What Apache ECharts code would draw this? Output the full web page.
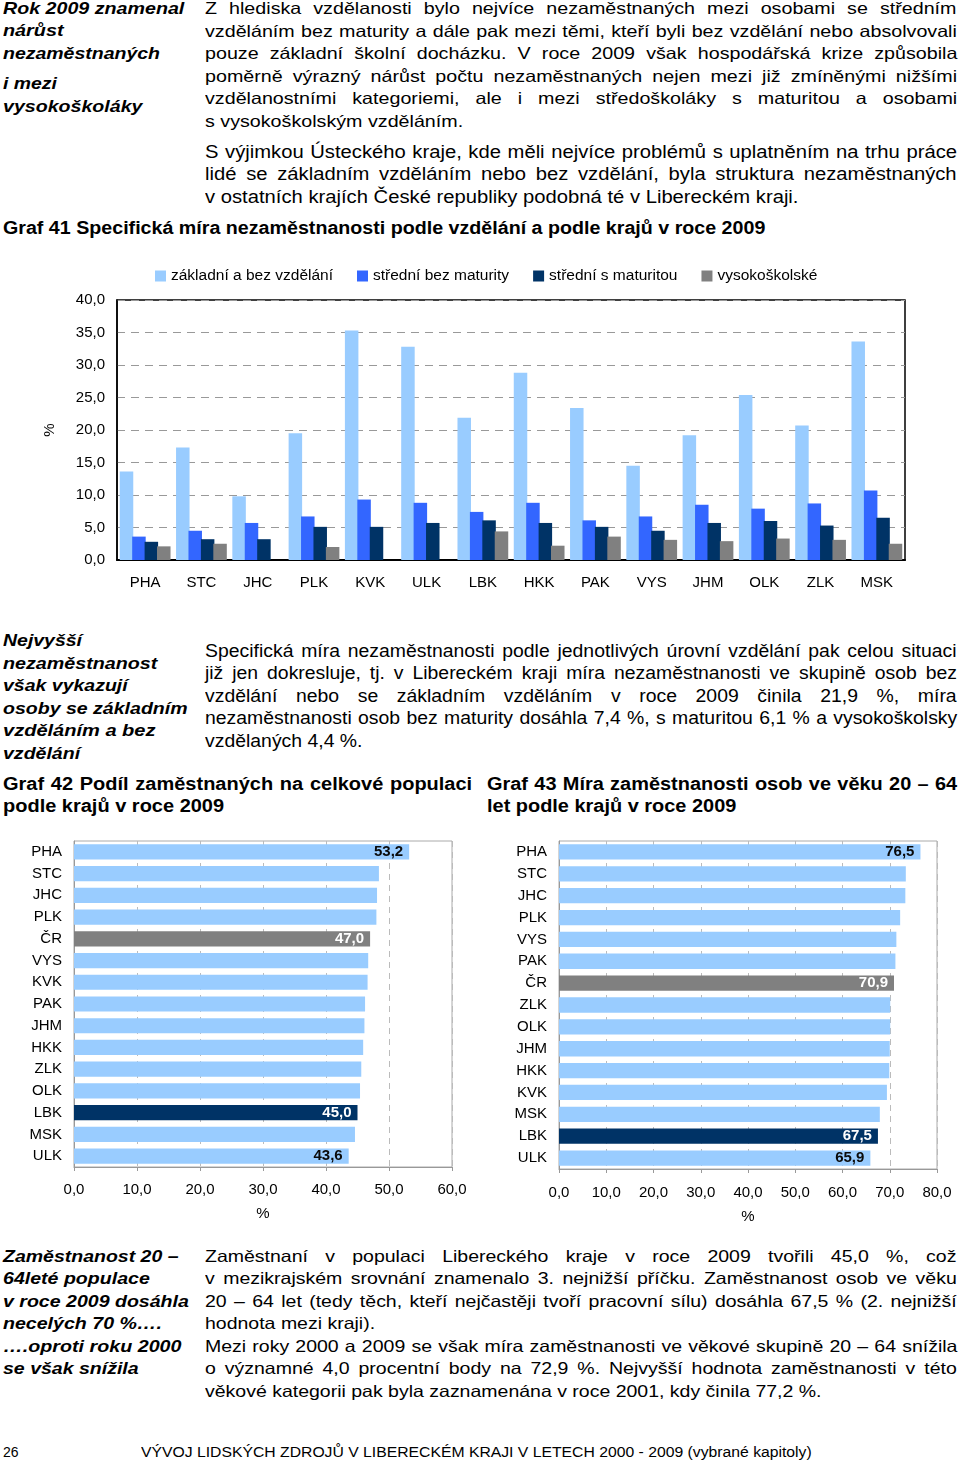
<!DOCTYPE html>
<html>
<head>
<meta charset="utf-8">
<script src="https://cdn.jsdelivr.net/npm/echarts@6/dist/echarts.min.js"></script>
<style>
html, body { margin: 0; padding: 0; background: #fff; }
#page { position: relative; width: 960px; height: 1463px; overflow: hidden; font-family: "Liberation Sans", Arial, sans-serif; color: #000; }
.ln { position: absolute; white-space: nowrap; line-height: 1; transform-origin: 0 0; }
.n { font-size: 16.5px; }
.n2 { font-size: 17.5px; }
.hi { font-size: 16.5px; font-weight: bold; font-style: italic; }
.hi2 { font-size: 17px; font-weight: bold; font-style: italic; }
.t { font-size: 18px; font-weight: bold; }
.ft { font-size: 14px; }
.chart { position: absolute; }
</style>
</head>
<body>
<div id="page">
  <!-- úvodní odstavce -->
  <div class="ln hi" data-x0="3" data-x1="184" data-b="13.5">Rok 2009 znamenal</div>
  <div class="ln hi" data-x0="3" data-x1="63" data-b="36">nárůst</div>
  <div class="ln hi" data-x0="3" data-x1="160" data-b="58.5">nezaměstnaných</div>
  <div class="ln hi" data-x0="3" data-x1="57" data-b="89">i mezi</div>
  <div class="ln hi" data-x0="3" data-x1="142" data-b="111.5">vysokoškoláky</div>

  <div class="ln n" data-blk="p1" data-m="j" data-x0="205" data-x1="957" data-b="14">Z hlediska vzdělanosti bylo nejvíce nezaměstnaných mezi osobami se středním</div>
  <div class="ln n" data-blk="p1" data-m="j" data-x0="205" data-x1="957" data-b="36.5">vzděláním bez maturity a dále pak mezi těmi, kteří byli bez vzdělání nebo absolvovali</div>
  <div class="ln n" data-blk="p1" data-m="j" data-x0="205" data-x1="957" data-b="59">pouze základní školní docházku. V roce 2009 však hospodářská krize způsobila</div>
  <div class="ln n" data-blk="p1" data-m="j" data-x0="205" data-x1="957" data-b="81.5">poměrně výrazný nárůst počtu nezaměstnaných nejen mezi již zmíněnými nižšími</div>
  <div class="ln n" data-blk="p1" data-m="j" data-x0="205" data-x1="957" data-b="104">vzdělanostními kategoriemi, ale i mezi středoškoláky s maturitou a osobami</div>
  <div class="ln n" data-blk="p1" data-x0="205" data-x1="461" data-b="126.5">s vysokoškolským vzděláním.</div>

  <div class="ln n2" data-blk="p2" data-m="j" data-x0="205" data-x1="957" data-b="158.5">S výjimkou Ústeckého kraje, kde měli nejvíce problémů s uplatněním na trhu práce</div>
  <div class="ln n2" data-blk="p2" data-m="j" data-x0="205" data-x1="957" data-b="181">lidé se základním vzděláním nebo bez vzdělání, byla struktura nezaměstnaných</div>
  <div class="ln n2" data-blk="p2" data-x0="205" data-x1="781" data-b="203.5">v ostatních krajích České republiky podobná té v Libereckém kraji.</div>

  <div class="ln t" data-x0="3" data-x1="765" data-b="234.5">Graf 41 Specifická míra nezaměstnanosti podle vzdělání a podle krajů v roce 2009</div>

  <div id="graf41" class="chart" style="left:0;top:255px;width:960px;height:350px;"></div>

  <!-- prostřední část -->
  <div class="ln hi2" data-x0="3" data-x1="82" data-b="646.5">Nejvyšší</div>
  <div class="ln hi2" data-x0="3" data-x1="157" data-b="669">nezaměstnanost</div>
  <div class="ln hi2" data-x0="3" data-x1="128" data-b="691.5">však vykazují</div>
  <div class="ln hi2" data-x0="3" data-x1="188" data-b="714">osoby se základním</div>
  <div class="ln hi2" data-x0="3" data-x1="155" data-b="736.5">vzděláním a bez</div>
  <div class="ln hi2" data-x0="3" data-x1="80" data-b="759">vzdělání</div>

  <div class="ln n2" data-blk="p3" data-m="j" data-x0="205" data-x1="957" data-b="657.5">Specifická míra nezaměstnanosti podle jednotlivých úrovní vzdělání pak celou situaci</div>
  <div class="ln n2" data-blk="p3" data-m="j" data-x0="205" data-x1="957" data-b="680">již jen dokresluje, tj. v Libereckém kraji míra nezaměstnanosti ve skupině osob bez</div>
  <div class="ln n2" data-blk="p3" data-m="j" data-x0="205" data-x1="957" data-b="702.5">vzdělání nebo se základním vzděláním v roce 2009 činila 21,9 %, míra</div>
  <div class="ln n2" data-blk="p3" data-m="j" data-x0="205" data-x1="957" data-b="725">nezaměstnanosti osob bez maturity dosáhla 7,4 %, s maturitou 6,1 % a vysokoškolsky</div>
  <div class="ln n2" data-blk="p3" data-x0="205" data-x1="363" data-b="747.5">vzdělaných 4,4 %.</div>

  <div class="ln t" data-blk="g42" data-m="j" data-x0="3" data-x1="472" data-b="790.5">Graf 42 Podíl zaměstnaných na celkové populaci</div>
  <div class="ln t" data-blk="g42" data-x0="3" data-x1="219" data-b="812.5">podle krajů v roce 2009</div>
  <div class="ln t" data-blk="g43" data-m="j" data-x0="487" data-x1="957" data-b="790.5">Graf 43 Míra zaměstnanosti osob ve věku 20 – 64</div>
  <div class="ln t" data-blk="g43" data-x0="487" data-x1="732" data-b="812.5">let podle krajů v roce 2009</div>

  <div id="graf42" class="chart" style="left:0;top:830px;width:480px;height:400px;"></div>
  <div id="graf43" class="chart" style="left:480px;top:830px;width:480px;height:400px;"></div>

  <!-- spodní část -->
  <div class="ln hi" data-x0="3" data-x1="179" data-b="1261.5">Zaměstnanost 20 –</div>
  <div class="ln hi" data-x0="3" data-x1="150" data-b="1284">64leté populace</div>
  <div class="ln hi" data-x0="3" data-x1="189" data-b="1306.5">v roce 2009 dosáhla</div>
  <div class="ln hi" data-x0="3" data-x1="162" data-b="1329">necelých 70 %….</div>
  <div class="ln hi" data-x0="3" data-x1="181" data-b="1351.5">….oproti roku 2000</div>
  <div class="ln hi" data-x0="3" data-x1="139" data-b="1374">se však snížila</div>

  <div class="ln n" data-blk="p4" data-m="j" data-x0="205" data-x1="957" data-b="1261.5">Zaměstnaní v populaci Libereckého kraje v roce 2009 tvořili 45,0 %, což</div>
  <div class="ln n" data-blk="p4" data-m="j" data-x0="205" data-x1="957" data-b="1284">v mezikrajském srovnání znamenalo 3. nejnižší příčku. Zaměstnanost osob ve věku</div>
  <div class="ln n" data-blk="p4" data-m="j" data-x0="205" data-x1="957" data-b="1306.5">20 – 64 let (tedy těch, kteří nejčastěji tvoří pracovní sílu) dosáhla 67,5 % (2. nejnižší</div>
  <div class="ln n" data-blk="p4" data-x0="205" data-x1="376" data-b="1329">hodnota mezi kraji).</div>
  <div class="ln n" data-blk="p4" data-m="j" data-x0="205" data-x1="957" data-b="1351.5">Mezi roky 2000 a 2009 se však míra zaměstnanosti ve věkové skupině 20 – 64 snížila</div>
  <div class="ln n" data-blk="p4" data-m="j" data-x0="205" data-x1="957" data-b="1374">o významné 4,0 procentní body na 72,9 %. Nejvyšší hodnota zaměstnanosti v této</div>
  <div class="ln n" data-blk="p4" data-x0="205" data-x1="826" data-b="1396.5">věkové kategorii pak byla zaznamenána v roce 2001, kdy činila 77,2 %.</div>

  <div class="ln ft" data-x0="3" data-x1="19" data-b="1457">26</div>
  <div class="ln ft" data-x0="141" data-x1="812" data-b="1457">VÝVOJ LIDSKÝCH ZDROJŮ V LIBERECKÉM KRAJI V LETECH 2000 - 2009 (vybrané kapitoly)</div>
</div>

<script>
// Graf 41 - specifická míra nezaměstnanosti (%)
var kraje41 = ['PHA', 'STC', 'JHC', 'PLK', 'KVK', 'ULK', 'LBK', 'HKK', 'PAK', 'VYS', 'JHM', 'OLK', 'ZLK', 'MSK'];
var zakladni = [13.6, 17.3, 9.8, 19.5, 35.3, 32.8, 21.9, 28.8, 23.4, 14.5, 19.2, 25.4, 20.7, 33.6];
var stredniBezMat = [3.6, 4.5, 5.7, 6.7, 9.3, 8.8, 7.4, 8.8, 6.1, 6.7, 8.5, 7.9, 8.7, 10.7];
var stredniSMat = [2.8, 3.2, 3.2, 5.1, 5.1, 5.7, 6.1, 5.7, 5.1, 4.5, 5.7, 6.0, 5.3, 6.5];
var vysokoskolske = [2.1, 2.5, null, 2.0, null, null, 4.4, 2.2, 3.6, 3.1, 2.9, 3.3, 3.1, 2.5];

// Graf 42 - podíl zaměstnaných na celkové populaci (%)
var kraje42 = ['PHA', 'STC', 'JHC', 'PLK', 'ČR', 'VYS', 'KVK', 'PAK', 'JHM', 'HKK', 'ZLK', 'OLK', 'LBK', 'MSK', 'ULK'];
var podil42 = [53.2, 48.4, 48.1, 48.0, 47.0, 46.7, 46.6, 46.2, 46.1, 45.9, 45.6, 45.4, 45.0, 44.6, 43.6];

// Graf 43 - míra zaměstnanosti 20-64 let (%)
var kraje43 = ['PHA', 'STC', 'JHC', 'PLK', 'VYS', 'PAK', 'ČR', 'ZLK', 'OLK', 'JHM', 'HKK', 'KVK', 'MSK', 'LBK', 'ULK'];
var mira43 = [76.5, 73.4, 73.3, 72.2, 71.4, 71.2, 70.9, 70.1, 70.1, 70.0, 69.9, 69.4, 67.9, 67.5, 65.9];

var popisky = ['PHA', 'ČR', 'LBK', 'ULK'];  // hodnoty s popiskem

var FONT = '"Liberation Sans", Arial, sans-serif';
var fmt = function (v) { return v.toFixed(1).replace('.', ','); };

// rozmístění řádků textu, odstavce zarovnané do bloku
var radky = Array.prototype.slice.call(document.querySelectorAll('.ln'));
var blokSx = {};
radky.forEach(function (el) {
  el.dataset.nat = el.offsetWidth;
  var blk = el.dataset.blk;
  if (blk && el.dataset.m === 'j') {
    var r = (el.dataset.x1 - el.dataset.x0) / el.dataset.nat;
    blokSx[blk] = Math.min(blokSx[blk] || 99, r);
  }
});
radky.forEach(function (el) {
  var x0 = +el.dataset.x0, x1 = +el.dataset.x1, b = +el.dataset.b, nat = +el.dataset.nat;
  var fs = parseFloat(getComputedStyle(el).fontSize);
  var w = x1 - x0;
  el.style.left = x0 + 'px';
  el.style.top = (b - 0.8465 * fs) + 'px';
  var sx = el.dataset.blk ? blokSx[el.dataset.blk] * 0.985 : w / nat;
  if (el.dataset.m === 'j') {
    var sp = (el.textContent.match(/ /g) || []).length;
    if (sp) el.style.wordSpacing = ((w / sx - nat) / sp) + 'px';
  }
  el.style.transform = 'scaleX(' + sx + ')';
});

// graf 41
var g41 = echarts.init(document.getElementById('graf41'));
var barCommon = { type: 'bar', barWidth: 13.5, barGap: '-8%' };
g41.setOption({
  animation: false,
  textStyle: { fontFamily: FONT },
  color: ['#99CCFF', '#3366FF', '#003366', '#808080'],
  legend: {
    left: 150, top: 8, icon: 'rect', itemWidth: 11, itemHeight: 11, itemGap: 24,
    textStyle: { fontSize: 15.5, color: '#000', fontFamily: FONT }
  },
  grid: { left: 117, right: 55, top: 45, bottom: 45, show: true, borderColor: '#000', borderWidth: 1.5 },
  xAxis: {
    type: 'category', data: kraje41,
    axisLine: { lineStyle: { color: '#000', width: 2 } },
    axisTick: { length: 4, lineStyle: { color: '#000' } },
    axisLabel: { fontSize: 15, color: '#000', margin: 15 }
  },
  yAxis: {
    type: 'value', min: 0, max: 40, interval: 5,
    name: '%', nameLocation: 'middle', nameGap: 60, nameRotate: 90,
    nameTextStyle: { fontSize: 15, color: '#000' },
    axisLine: { show: true, lineStyle: { color: '#000', width: 1.5 } },
    axisTick: { show: false },
    axisLabel: { fontSize: 15, color: '#000', margin: 12, formatter: fmt },
    splitLine: { lineStyle: { color: '#999', type: [8, 6] } }
  },
  series: [
    Object.assign({ name: 'základní a bez vzdělání', data: zakladni }, barCommon),
    Object.assign({ name: 'střední bez maturity', data: stredniBezMat }, barCommon),
    Object.assign({ name: 'střední s maturitou', data: stredniSMat }, barCommon),
    Object.assign({ name: 'vysokoškolské', data: vysokoskolske }, barCommon)
  ]
});

// vodorovné grafy 42 a 43
function horizontal(id, kraje, hodnoty, max, gridOpt, labelMargin, nameGap) {
  var chart = echarts.init(document.getElementById(id));
  var data = hodnoty.map(function (v, i) {
    var k = kraje[i];
    var barva = k === 'ČR' ? '#808080' : (k === 'LBK' ? '#003366' : '#99CCFF');
    var bila = k === 'ČR' || k === 'LBK';
    return {
      value: v,
      itemStyle: { color: barva },
      label: { show: popisky.indexOf(k) >= 0, color: bila ? '#fff' : '#0a0a0a' }
    };
  });
  chart.setOption({
    animation: false,
    textStyle: { fontFamily: FONT },
    grid: Object.assign({ show: true, borderColor: '#aaa', borderWidth: 1 }, gridOpt),
    xAxis: {
      type: 'value', min: 0, max: max, interval: 10,
      name: '%', nameLocation: 'middle', nameGap: nameGap,
      nameTextStyle: { fontSize: 15, color: '#000' },
      axisLine: { show: true, lineStyle: { color: '#999' } },
      axisTick: { show: true, length: 4, lineStyle: { color: '#999' } },
      axisLabel: { fontSize: 15, color: '#000', margin: labelMargin, formatter: fmt },
      splitLine: { lineStyle: { color: '#bbb', type: [6, 5] } }
    },
    yAxis: {
      type: 'category', inverse: true, data: kraje,
      axisLine: { lineStyle: { color: '#999' } },
      axisTick: { length: 5, lineStyle: { color: '#999' } },
      axisLabel: { fontSize: 15, color: '#000', margin: 12 }
    },
    series: [{
      type: 'bar', barCategoryGap: '30%', data: data,
      label: {
        position: 'insideRight', distance: 6, fontSize: 15, fontWeight: 'bold',
        formatter: function (p) { return fmt(p.value); }
      }
    }]
  });
}
horizontal('graf42', kraje42, podil42, 60, { left: 74, right: 28, top: 11, bottom: 63 }, 15, 39);
horizontal('graf43', kraje43, mira43, 80, { left: 79, right: 23, top: 11, bottom: 61 }, 16, 40);
</script>
</body>
</html>
